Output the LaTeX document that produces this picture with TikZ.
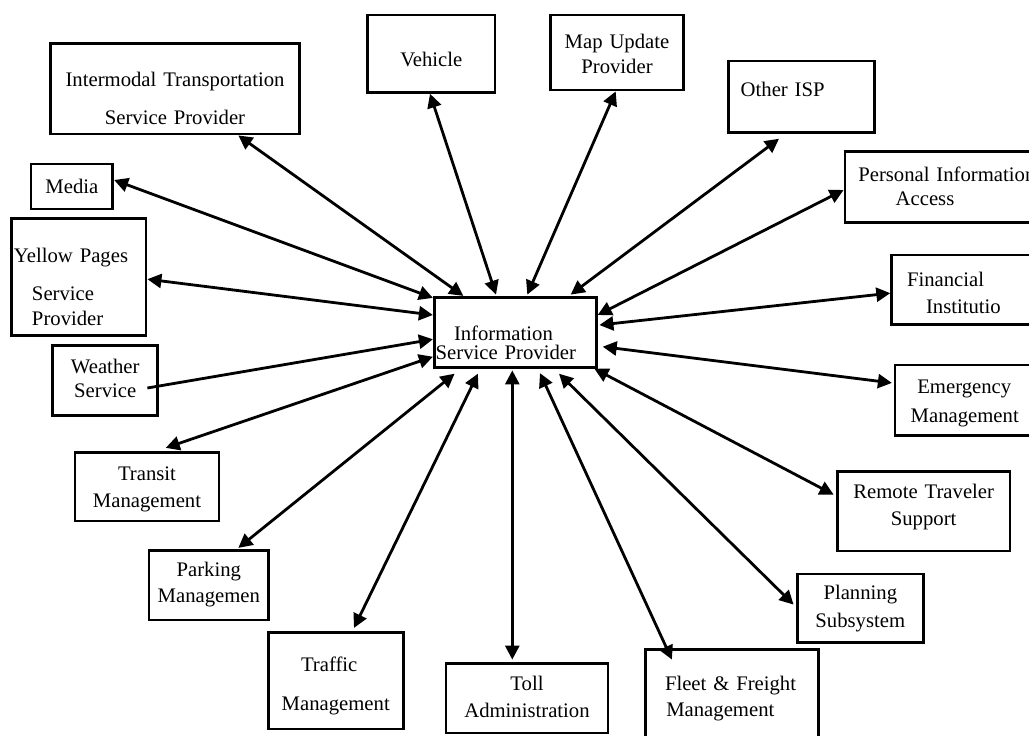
\documentclass[tikz,border=0pt]{standalone}
\usepackage{fontspec}
\setmainfont{Liberation Serif}
\usetikzlibrary{arrows.meta}

\begin{document}
\begin{tikzpicture}[x=1pt,y=-1pt,>={Triangle[length=14pt,width=14pt]},
    sys/.style={draw, line width=2.8pt, inner sep=0pt, align=center,
                font=\fontsize{20.7}{25}\selectfont},
    link/.style={line width=2.8pt}]
           \useasboundingbox (0,0) rectangle (1029,736);
           % centre box
           \node[sys, align=left, text width=162pt, text height=42.7pt, text depth=27.3pt] (isp) at (515.3,332.3) {\hspace*{19.7pt}Information\\[-5.7pt]\hspace*{1.4pt}Service Provider};
           % boxes round it
           \node[sys, text width=248.6pt, text height=42.7pt, text depth=48pt] (intermodal) at (175,88.7) {Intermodal Transportation\\[13pt]Service Provider};
           \node[sys, text width=127.3pt, text height=51pt, text depth=26.3pt] (vehicle) at (431.3,53.7) {Vehicle};
           \node[sys, text width=132.6pt, text height=33.3pt, text depth=41.7pt] (mapupd) at (617,52.5) {Map Update\\Provider};
           \node[sys, align=left, text width=146.4pt, text height=35.7pt, text depth=35.6pt] (otherisp) at (801.5,96.7) {\hspace*{12.4pt}Other ISP};
           \node[sys, align=left, text width=204pt, text height=30pt, text depth=40.6pt] (personal) at (947,187) {\hspace*{13.3pt}Personal Information\\[-1pt]\hspace*{50.7pt}Access};
           \node[sys, align=left, text width=157.3pt, text height=31.7pt, text depth=37.6pt] (financial) at (970.35,289.65) {\hspace*{15.3pt}Financial\\[1.6pt]\hspace*{34.3pt}Institutio};
           \node[sys, align=left, text width=154pt, text height=28.3pt, text depth=42.4pt] (emergency) at (972,400.35) {\hspace*{22.3pt}Emergency\\[4.4pt]\hspace*{15.7pt}Management};
           \node[sys, text width=172.7pt, text height=26.6pt, text depth=52.7pt] (remote) at (923.65,511.35) {Remote Traveler\\[1.7pt]Support};
           \node[sys, text width=126pt, text height=25.3pt, text depth=43.4pt] (planning) at (860.3,608.35) {Planning\\[3.4pt]Subsystem};
           \node[sys, align=left, text width=172.6pt, text height=40.7pt, text depth=60pt] (fleet) at (732,699.65) {\hspace*{19.3pt}Fleet \& Freight\\[1pt]\hspace*{20.6pt}Management};
           \node[sys, text width=162pt, text height=26.7pt, text depth=43pt] (toll) at (527,698.15) {Toll\\[2.7pt]Administration};
           \node[sys, align=left, text width=135pt, text height=39.4pt, text depth=57.3pt] (traffic) at (335.8,680.65) {\hspace*{32.7pt}Traffic\\[13.3pt]\hspace*{13.4pt}Management};
           \node[sys, text width=119.7pt, text height=26pt, text depth=43.3pt] (parking) at (208.85,585.35) {Parking\\[1pt]Managemen};
           \node[sys, text width=144pt, text height=27.7pt, text depth=41pt] (transit) at (147,486.65) {Transit\\[2pt]Management};
           \node[sys, text width=105pt, text height=27.3pt, text depth=42.7pt] (weather) at (105.2,380.7) {Weather\\[-1pt]Service};
           \node[sys, align=left, text width=134.3pt, text height=43.3pt, text depth=73.7pt] (yellow) at (78.85,277.2) {\hspace*{2.3pt}Yellow Pages\\[13.7pt]\hspace*{20.3pt}Service\\[-0.4pt]\hspace*{20.3pt}Provider};
           \node[sys, text width=81.7pt, text height=29pt, text depth=16pt] (media) at (71.85,186.5) {Media};
           % flows
           \draw[link,<->] ([xshift=63.3pt]intermodal.south) -- ([xshift=-52pt]isp.north);
           \draw[link,<->] ([yshift=6.5pt]media.east) -- ([yshift=-2pt]isp.north west);
           \draw[link,<->] ([xshift=-1.3pt]vehicle.south) -- ([xshift=-19.3pt,yshift=1.3pt]isp.north);
           \draw[link,<->] ([yshift=-2pt]yellow.east) -- ([yshift=17.3pt]isp.west);
           \draw[link,->] ([xshift=-11.7pt,yshift=-7.3pt]weather.east) -- ([yshift=-7pt]isp.west);
           \draw[link,<->] ([xshift=18.7pt,yshift=3pt]transit.north) -- ([yshift=-24.4pt]isp.west);
           \draw[link,<->] ([xshift=29.5pt,yshift=1.4pt]parking.north) -- ([xshift=21.7pt,yshift=-5pt]isp.south west);
           \draw[link,<->] ([xshift=18.2pt,yshift=3pt]traffic.north) -- ([xshift=45pt,yshift=-5pt]isp.south west);
           \draw[link,<->] ([xshift=-14.7pt,yshift=2.3pt]toll.north) -- ([xshift=-3pt,yshift=-1.7pt]isp.south);
           \draw[link,<->] ([xshift=27.6pt,yshift=-11.7pt]fleet.north west) -- ([xshift=24.7pt,yshift=-4.4pt]isp.south);
           \draw[link,<->] ([xshift=-2.3pt,yshift=-32pt]planning.north west) -- ([xshift=43.7pt,yshift=-5pt]isp.south);
           \draw[link,<->] ([xshift=-2.3pt,yshift=-24.3pt]remote.north west) -- ([xshift=-3.3pt]isp.south east);
           \draw[link,<->] ([xshift=-1.7pt,yshift=-19.3pt]emergency.north west) -- ([xshift=5pt,yshift=-14.4pt]isp.east);
           \draw[link,<->] ([yshift=-3.5pt]financial.west) -- ([xshift=1.7pt,yshift=7.3pt]isp.east);
           \draw[link,<->] ([yshift=-3pt]personal.west) -- ([yshift=17.3pt]isp.east);
           \draw[link,<->] ([xshift=-22.5pt,yshift=-5pt]otherisp.south) -- ([xshift=55.4pt,yshift=1.3pt]isp.north);
           \draw[link,<->] ([xshift=-1.3pt]mapupd.south) -- ([xshift=12pt,yshift=1.3pt]isp.north);
        \end{tikzpicture}
\end{document}
